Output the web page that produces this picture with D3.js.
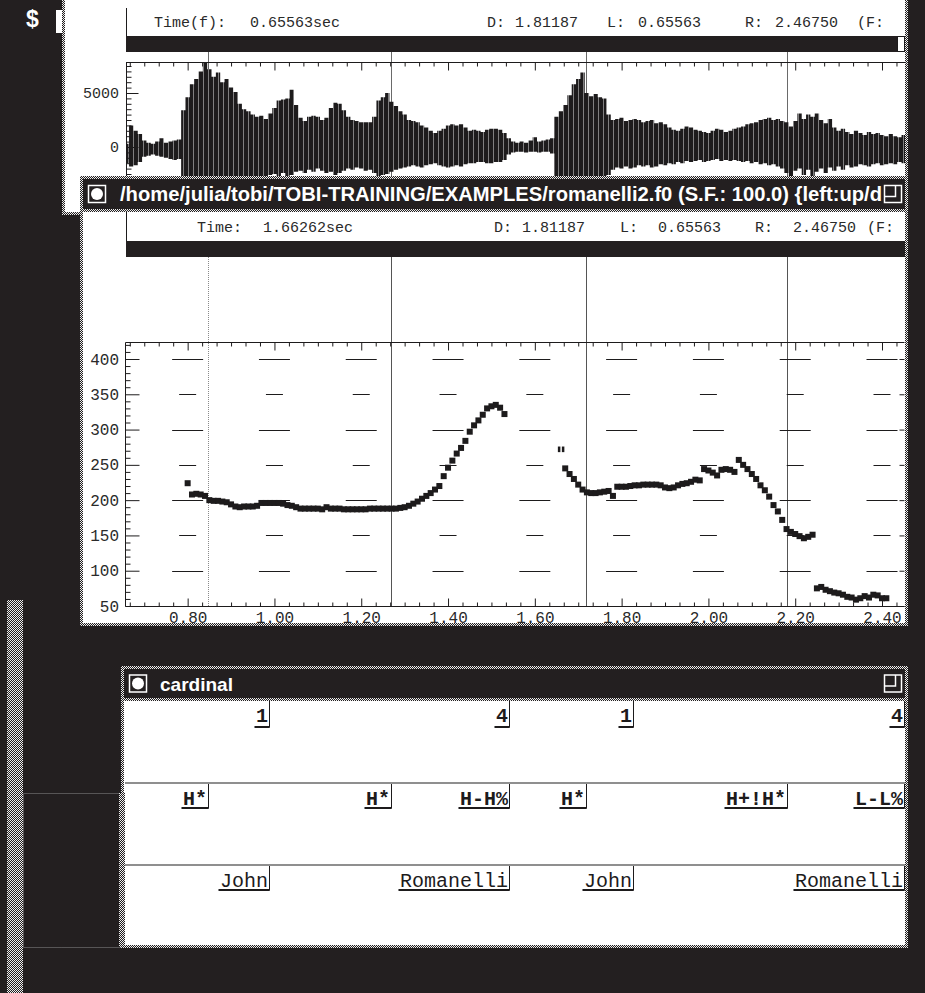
<!DOCTYPE html>
<html>
<head>
<meta charset="utf-8">
<title>romanelli2 — waveform, F0 track and ToBI labels</title>
<script src="https://cdn.jsdelivr.net/npm/d3@7/dist/d3.min.js"></script>
<style>
  html, body { margin: 0; padding: 0; background: #231f20; }
  svg { display: block; }
</style>
</head>
<body>
<svg id="screen" width="925" height="993"></svg>
<script>
// ---- Data -----------------------------------------------------------------
// Visible time window shared by all three displays (seconds)
const viewStart = 0.65563;
const viewEnd = 2.46750;
const frameStep = 0.01;              // 100 Hz analysis frames

// Waveform envelope: max / min sample value per 10 ms frame, from waveStart
const waveStart = 0.66;
const waveHigh = [
  300, 2000, 1500, 1200, 600, 400, 300, 500, 800, 400,       // 0.66
  500, 600, 700, 3400, 4600, 5800, 6300, 7000, 7800, 7200,    // 0.76
  6500, 6900, 6000, 6300, 5500, 5100, 4000, 3500, 3300, 3000, // 0.86
  2800, 2900, 2600, 3100, 3600, 4300, 4400, 4500, 5300, 3900, // 0.96
  2700, 2400, 2800, 2900, 2800, 2500, 2700, 3600, 4100, 4000, // 1.06
  3400, 2800, 2500, 2400, 2300, 2300, 2300, 2800, 4300, 4600, // 1.16
  5000, 4200, 3800, 3300, 3000, 2500, 2400, 2300, 2000, 1800, // 1.26
  1500, 1300, 1500, 1700, 2000, 2100, 2000, 2100, 1800, 1500, // 1.36
  1600, 1500, 1400, 1600, 1700, 1700, 1600, 1300, 800, 500,   // 1.46
  400, 500, 400, 600, 900, 500, 600, 700, 800, 2800,          // 1.56
  3300, 3900, 4800, 5800, 6300, 6900, 5000, 4700, 4900, 4600, // 1.66
  4500, 3000, 2500, 2600, 2700, 2400, 2500, 2600, 2500, 2300, // 1.76
  2400, 2500, 2200, 2300, 2100, 1800, 1600, 1500, 1700, 1900, // 1.86
  1800, 1600, 1500, 1400, 1300, 1500, 1700, 1600, 1400, 1500, // 1.96
  1700, 1800, 1900, 2100, 2200, 2300, 2500, 2600, 2700, 2500, // 2.06
  2600, 2400, 2300, 1900, 2400, 3100, 2600, 3000, 2800, 3100, // 2.16
  2500, 2200, 2600, 1800, 1500, 1700, 1400, 1200, 1500, 1300, // 2.26
  1100, 1400, 1200, 1300, 1100, 1000, 1200, 1000, 900, 1100,  // 2.36
  900                                                          // 2.46
];
const waveLow = [
  -1500, -1800, -1700, -1400, -900, -800, -700, -800, -900, -1000,       // 0.66
  -1100, -1200, -1100, -3500, -3600, -3600, -3600, -3600, -3600, -3600,  // 0.76
  -3600, -3600, -3600, -3600, -3600, -3600, -3600, -3600, -3600, -3600,  // 0.86
  -3600, -3600, -3200, -2600, -2500, -2800, -2400, -2700, -2600, -2300,  // 0.96
  -2200, -2400, -2100, -2300, -2000, -2200, -2400, -2300, -2600, -2400,  // 1.06
  -2200, -2000, -2100, -1900, -2000, -2200, -2100, -2400, -2700, -2600,  // 1.16
  -2500, -2300, -2100, -2000, -1900, -1800, -1700, -1800, -1900, -1700,  // 1.26
  -1600, -1500, -1700, -1800, -1900, -1800, -1700, -1800, -1600, -1500,  // 1.36
  -1500, -1400, -1400, -1500, -1500, -1400, -1400, -1200, -700, -500,    // 1.46
  -450, -450, -500, -450, -450, -500, -450, -450, -600, -3600,           // 1.56
  -3600, -3600, -3600, -3600, -3600, -3600, -3600, -3600, -3600, -3600,  // 1.66
  -3600, -2600, -2100, -1900, -2000, -1800, -2000, -1900, -1700, -1800,  // 1.76
  -1700, -1900, -1800, -1600, -1700, -1500, -1600, -1400, -1500, -1300,  // 1.86
  -1400, -1300, -1200, -1400, -1300, -1200, -1100, -1300, -1200, -1300,  // 1.96
  -1200, -1300, -1400, -1300, -1500, -1400, -1600, -1500, -1700, -1600,  // 2.06
  -1800, -2000, -2400, -2800, -2200, -2000, -2600, -2100, -2800, -2300,  // 2.16
  -2000, -2400, -1900, -2200, -1800, -2100, -1700, -1900, -1800, -1600,  // 2.26
  -1700, -1800, -1600, -1500, -1700, -1600, -1500, -1600, -1400, -1500,  // 2.36
  -1400                                                                   // 2.46
];

// F0 track (Hz), one value per frame; three voiced stretches
const f0Seg1Start = 0.80;
const f0Seg1 = [
  224, 208, 209, 208, 206, 200, 199, 199, 198, 197,   // 0.80
  194, 191, 190, 191, 191, 191, 192, 196, 196, 196,   // 0.90
  196, 196, 195, 193, 192, 190, 188, 188, 188, 188,   // 1.00
  188, 187, 190, 188, 188, 188, 187, 187, 187, 187,   // 1.10
  187, 187, 188, 188, 188, 188, 188, 188, 188, 189,   // 1.20
  190, 192, 195, 198, 202, 206, 210, 215, 220, 234,   // 1.30
  246, 256, 266, 274, 284, 297, 306, 313, 321, 330,   // 1.40
  333, 335, 331, 322                                  // 1.50
];
const f0Seg2Start = 1.67;
const f0Seg2 = [
  245, 237, 230,                                      // 1.67
  222, 215, 211, 210, 210, 211, 212, 213, 206, 219,   // 1.70
  219, 219, 220, 221, 221, 222, 222, 222, 222, 221,   // 1.80
  218, 217, 218, 221, 223, 224, 226, 229, 228, 244,   // 1.90
  242, 239, 235, 243, 244, 243, 240, 257, 250, 244,   // 2.00
  237, 230, 221, 214, 205, 193, 184, 172, 159, 155,   // 2.10
  152, 149, 146, 148, 151                             // 2.20
];
const f0Seg3Start = 2.25;
const f0Seg3 = [75, 77, 73, 71, 69, 68, 66, 63, 62, 59, 61, 64, 62, 66, 65, 61, 61];
// single broken frame just before the second stretch
const f0StrayTime = 1.66;
const f0StrayHz = 272;

// Axis ticks
const timeTicks = [0.80, 1.00, 1.20, 1.40, 1.60, 1.80, 2.00, 2.20, 2.40];
const hzTicks = [50, 100, 150, 200, 250, 300, 350, 400];
const hzGrid = [100, 150, 200, 250, 300, 350, 400];
const ampTicks = [0, 5000];

// Label tiers (time of right boundary, label text)
const breakTimes = [0.987, 1.540, 1.827, 2.451];
const breakLabels = ["1", "4", "1", "4"];
const toneTimes = [0.847, 1.269, 1.540, 1.7185, 2.1805, 2.451];
const toneLabels = ["H*", "H*", "H-H%", "H*", "H+!H*", "L-L%"];
const wordTimes = [0.987, 1.540, 1.827, 2.451];
const wordLabels = ["John", "Romanelli", "John", "Romanelli"];

// Cursor times shown in the two headers
const waveCursor = 0.65563;
const f0Cursor = 1.66262;

// ---- Drawing --------------------------------------------------------------
const W = 925, H = 993;
const dark = "#231f20";
const ink = "#1d1b1c";
const mono = "'Liberation Mono', 'DejaVu Sans Mono', monospace";
const sans = "'Liberation Sans', Arial, sans-serif";
const fmt5 = d3.format(".5f");

const svg = d3.select("#screen");
const defs = svg.append("defs");

// 50% dither used for window borders
const stip = defs.append("pattern").attr("id", "stipple")
  .attr("width", 2).attr("height", 2).attr("patternUnits", "userSpaceOnUse");
stip.append("rect").attr("width", 2).attr("height", 2).attr("fill", dark);
stip.append("rect").attr("width", 1).attr("height", 1).attr("fill", "#eeeeee");
stip.append("rect").attr("x", 1).attr("y", 1).attr("width", 1).attr("height", 1).attr("fill", "#eeeeee");

// waveform fill: solid ink broken by thin pale period gaps
const wavePat = defs.append("pattern").attr("id", "waveFill")
  .attr("width", 5).attr("height", 8).attr("patternUnits", "userSpaceOnUse");
wavePat.append("rect").attr("width", 5).attr("height", 8).attr("fill", ink);
wavePat.append("rect").attr("x", 3).attr("width", 0.8).attr("height", 8).attr("fill", "#fff").attr("opacity", 0.55);

function clipRect(id, x, y, w, h) {
  defs.append("clipPath").attr("id", id)
    .append("rect").attr("x", x).attr("y", y).attr("width", w).attr("height", h);
}

function text(g, x, y, s, o = {}) {
  return g.append("text")
    .attr("x", x).attr("y", y)
    .attr("font-family", o.family || mono)
    .attr("font-size", o.size || 16)
    .attr("font-weight", o.weight || "normal")
    .attr("text-anchor", o.anchor || "start")
    .attr("fill", o.fill || ink)
    .text(s);
}

function windowFrame(x0, y0, x1, y1) {
  svg.append("rect").attr("x", x0).attr("y", y0)
    .attr("width", x1 - x0).attr("height", y1 - y0).attr("fill", "url(#stipple)");
  svg.append("rect").attr("x", x0 + 3).attr("y", y0 + 3)
    .attr("width", x1 - x0 - 6).attr("height", y1 - y0 - 6).attr("fill", "#fff");
}

function titleBar(x0, x1, y0, y1, title, titleX, titleLen, titleSize) {
  svg.append("rect").attr("x", x0).attr("y", y0).attr("width", x1 - x0).attr("height", y1 - y0).attr("fill", dark);
  svg.append("rect").attr("x", x0).attr("y", y1).attr("width", x1 - x0).attr("height", 3).attr("fill", "url(#stipple)");
  const cy = (y0 + y1) / 2;
  // close button
  svg.append("rect").attr("x", x0 + 5.5).attr("y", cy - 8.5).attr("width", 17).attr("height", 17)
    .attr("fill", dark).attr("stroke", "#fff").attr("stroke-width", 1.5);
  svg.append("circle").attr("cx", x0 + 14).attr("cy", cy).attr("r", 6).attr("fill", "#fff");
  // title
  svg.append("text").attr("x", titleX).attr("y", cy + 7)
    .attr("font-family", sans).attr("font-weight", "bold").attr("font-size", titleSize)
    .attr("fill", "#fff").attr("textLength", titleLen).attr("lengthAdjust", "spacingAndGlyphs")
    .text(title);
  // resize button
  const rx = x1 - 21;
  svg.append("rect").attr("x", rx + 0.5).attr("y", cy - 8.5).attr("width", 17).attr("height", 17)
    .attr("fill", dark).attr("stroke", "#fff").attr("stroke-width", 1.5);
  svg.append("path").attr("d", `M${rx + 11.5},${cy - 8.5}V${cy + 2.5}H${rx + 0.5}`)
    .attr("fill", "none").attr("stroke", "#fff").attr("stroke-width", 1.5);
}

function header(y0, yText, pieces) {
  svg.append("line").attr("x1", 126.5).attr("x2", 126.5).attr("y1", y0).attr("y2", yText + 9)
    .attr("stroke", ink).attr("stroke-width", 1);
  pieces.forEach(p => text(svg, p[0], yText, p[1], { size: 15, fill: "#2a2a2a" }));
  svg.append("rect").attr("x", 126).attr("y", yText + 9).attr("width", 779).attr("height", 16).attr("fill", dark);
}

svg.append("rect").attr("width", W).attr("height", H).attr("fill", dark);

// terminal strip on the left
text(svg, 26, 27, "$", { size: 23, weight: "bold", fill: "#fff", family: sans });
svg.append("rect").attr("x", 56).attr("y", 10).attr("width", 6).attr("height", 23).attr("fill", "#fff");
svg.append("rect").attr("x", 7).attr("y", 600).attr("width", 16).attr("height", 393).attr("fill", "url(#stipple)");
svg.append("rect").attr("x", 23.5).attr("y", 793.5).attr("width", 99).attr("height", 154)
  .attr("fill", "none").attr("stroke", "#8c8c8c").attr("stroke-dasharray", "1,1");

const xT = d3.scaleLinear().domain([viewStart, viewEnd]).range([125, 911.3]);
const minorStep = 0.2 / 6;
const minorTimes = d3.range(-4, 50).map(i => 0.8 + i * minorStep)
  .filter(t => t > viewStart + 0.005 && xT(t) < 904 && Math.abs(Math.round(t * 5) - t * 5) > 1e-6);
const toneMarks = toneTimes.filter((t, i) => toneLabels[i].includes("*"));

function timeAxisTicks(g, y, dir) {
  const maker = dir > 0 ? d3.axisBottom : d3.axisTop;
  g.append("g").attr("transform", `translate(0,${y})`)
    .call(maker(xT).tickValues(timeTicks).tickSize(8).tickFormat(""))
    .call(a => a.select(".domain").remove());
  g.append("g").attr("transform", `translate(0,${y})`)
    .call(maker(xT).tickValues(minorTimes).tickSize(4).tickFormat(""))
    .call(a => a.select(".domain").remove());
  g.selectAll(".tick line").attr("stroke", ink);
}

// ===== Waveform window =====
windowFrame(62, -3, 908, 215);
header(8, 27, [
  [154, "Time(f):"], [250, fmt5(waveCursor) + "sec"],
  [487, "D:"], [515, fmt5(viewEnd - viewStart)],
  [607, "L:"], [638, fmt5(viewStart)],
  [745, "R:"], [775, fmt5(viewEnd)], [857, "(F:"]
]);
svg.append("rect").attr("x", 897.5).attr("y", 36.5).attr("width", 7).attr("height", 15)
  .attr("fill", "#fff").attr("stroke", ink);

const yA = d3.scaleLinear().domain([0, 5000]).range([147, 93]);
clipRect("waveClip", 126, 62, 779, 151);
const waveG = svg.append("g");
// tone mark cursors
waveG.selectAll(".mark").data(toneMarks).join("line")
  .attr("x1", d => Math.round(xT(d)) + 0.5).attr("x2", d => Math.round(xT(d)) + 0.5)
  .attr("y1", 52).attr("y2", 212).attr("stroke", "#6a6a6a").attr("stroke-width", 1);

const waveData = waveHigh.map((h, i) => ({ t: waveStart + i * frameStep, hi: h, lo: waveLow[i] }));
const waveArea = d3.area().x(d => xT(d.t)).y0(d => yA(d.lo)).y1(d => yA(d.hi)).curve(d3.curveStep);
waveG.append("path").datum(waveData).attr("d", waveArea)
  .attr("fill", "url(#waveFill)").attr("clip-path", "url(#waveClip)");

// waveform axes
svg.append("line").attr("x1", 126).attr("x2", 905).attr("y1", 62.5).attr("y2", 62.5).attr("stroke", ink);
svg.append("line").attr("x1", 126.5).attr("x2", 126.5).attr("y1", 62).attr("y2", 212).attr("stroke", ink);
timeAxisTicks(svg.append("g"), 62.5, 1);
const ampMinor = d3.range(-2500, 8000, 500).filter(v => v % 5000 !== 0);
svg.append("g").attr("transform", "translate(126.5,0)")
  .call(d3.axisRight(yA).tickValues(ampMinor.filter(v => yA(v) > 64 && yA(v) < 212)).tickSize(5).tickFormat(""))
  .call(a => a.select(".domain").remove()).selectAll("line").attr("stroke", ink);
svg.append("g").attr("transform", "translate(126.5,0)")
  .call(d3.axisRight(yA).tickValues(ampTicks).tickSize(12).tickFormat(""))
  .call(a => a.select(".domain").remove()).selectAll("line").attr("stroke", ink);
const ampLabels = svg.append("g").attr("transform", "translate(125,0)")
  .call(d3.axisLeft(yA).tickValues(ampTicks).tickSize(0).tickPadding(6).tickFormat(d3.format("d")))
  .call(a => a.select(".domain").remove());
ampLabels.attr("font-family", mono).attr("font-size", 15).selectAll("text").attr("fill", "#2a2a2a");

// ===== F0 window =====
windowFrame(80, 176, 908, 626);
titleBar(83, 905, 179, 209,
  "/home/julia/tobi/TOBI-TRAINING/EXAMPLES/romanelli2.f0 (S.F.:  100.0) {left:up/d",
  120, 762, 21);
header(212, 232, [
  [197, "Time:"], [263, fmt5(f0Cursor) + "sec"],
  [494, "D:"], [522, fmt5(viewEnd - viewStart)],
  [620, "L:"], [658, fmt5(viewStart)],
  [755, "R:"], [793, fmt5(viewEnd)], [867, "(F:"]
]);

const yHz = d3.scaleLinear().domain([50, 400]).range([606, 359]);
clipRect("f0Clip", 126, 343, 779, 263);

// tone mark cursors through the F0 pane
svg.selectAll(".f0mark").data(toneMarks).join("line")
  .attr("x1", d => Math.round(xT(d)) + 0.5).attr("x2", d => Math.round(xT(d)) + 0.5)
  .attr("y1", 257).attr("y2", 606)
  .attr("stroke", (d, i) => i === 0 ? "#8a8a8a" : "#555")
  .attr("stroke-dasharray", (d, i) => i === 0 ? "1,1" : null);

// dashed reference grid
const gridG = svg.append("g").attr("clip-path", "url(#f0Clip)");
gridG.selectAll("line").data(d3.cross(timeTicks, hzGrid)).join("line")
  .attr("x1", d => xT(d[0]) - (d[1] % 100 === 0 ? 15.5 : 8.5))
  .attr("x2", d => xT(d[0]) + (d[1] % 100 === 0 ? 15.5 : 8.5))
  .attr("y1", d => Math.round(yHz(d[1])) + 0.5).attr("y2", d => Math.round(yHz(d[1])) + 0.5)
  .attr("stroke", ink).attr("stroke-width", 1);

// frame
svg.append("path").attr("d", "M125.5,342.5H904.5M125.5,342.5V606.5H904.5")
  .attr("fill", "none").attr("stroke", ink);
timeAxisTicks(svg.append("g"), 342.5, 1);
timeAxisTicks(svg.append("g"), 606.5, -1);

const hzMinor = d3.range(50, 425, 10).filter(v => v % 50 !== 0);
svg.append("g").attr("transform", "translate(125.5,0)")
  .call(d3.axisRight(yHz).tickValues(hzMinor).tickSize(5).tickFormat(""))
  .call(a => a.select(".domain").remove()).selectAll("line").attr("stroke", ink);
svg.append("g").attr("transform", "translate(125.5,0)")
  .call(d3.axisRight(yHz).tickValues(hzTicks).tickSize(14).tickFormat(""))
  .call(a => a.select(".domain").remove()).selectAll("line").attr("stroke", ink);
svg.append("g").attr("transform", "translate(904.5,0)")
  .call(d3.axisLeft(yHz).tickValues(hzTicks).tickSize(5).tickFormat(""))
  .call(a => a.select(".domain").remove()).selectAll("line").attr("stroke", ink);

const hzLabels = svg.append("g").attr("transform", "translate(123,0)")
  .call(d3.axisLeft(yHz).tickValues(hzTicks).tickSize(0).tickPadding(4).tickFormat(d3.format("d")))
  .call(a => a.select(".domain").remove());
hzLabels.attr("font-family", mono).attr("font-size", 16).selectAll("text").attr("fill", "#2a2a2a");

const tLabels = svg.append("g").attr("transform", "translate(0,606)")
  .call(d3.axisBottom(xT).tickValues(timeTicks).tickSize(0).tickPadding(6).tickFormat(d3.format(".2f")))
  .call(a => a.select(".domain").remove());
tLabels.attr("font-family", mono).attr("font-size", 16).selectAll("text").attr("fill", "#2a2a2a");

// F0 frames as filled squares
const f0Points = [
  ...f0Seg1.map((hz, i) => ({ t: f0Seg1Start + i * frameStep, hz })),
  ...f0Seg2.map((hz, i) => ({ t: f0Seg2Start + i * frameStep, hz })),
  ...f0Seg3.map((hz, i) => ({ t: f0Seg3Start + i * frameStep, hz }))
];
const ptG = svg.append("g").attr("clip-path", "url(#f0Clip)");
ptG.selectAll("rect").data(f0Points).join("rect")
  .attr("x", d => xT(d.t) - 3).attr("y", d => yHz(d.hz) - 3)
  .attr("width", 6).attr("height", 6).attr("fill", ink);
// broken frame drawn as a split square
ptG.append("rect").attr("x", xT(f0StrayTime) - 3).attr("y", yHz(f0StrayHz) - 2.8)
  .attr("width", 2.5).attr("height", 5.6).attr("fill", ink);
ptG.append("rect").attr("x", xT(f0StrayTime) + 1).attr("y", yHz(f0StrayHz) - 2.8)
  .attr("width", 2.5).attr("height", 5.6).attr("fill", ink);

// ===== Label window =====
windowFrame(121, 666, 908, 948);
titleBar(124, 905, 669, 698, "cardinal", 160, 73, 19);
svg.append("rect").attr("x", 119).attr("y", 793).attr("width", 6).attr("height", 154).attr("fill", "url(#stipple)");

[783, 865].forEach(y => svg.append("line").attr("x1", 125).attr("x2", 905)
  .attr("y1", y).attr("y2", y).attr("stroke", "#6a6a6a").attr("stroke-width", 1.5));

const tiers = [
  { top: 701, base: 722, under: 727, times: breakTimes, labels: breakLabels, weight: "bold" },
  { top: 784, base: 805, under: 808, times: toneTimes, labels: toneLabels, weight: "bold" },
  { top: 866, base: 887, under: 890, times: wordTimes, labels: wordLabels, weight: "normal" }
];
tiers.forEach(tier => {
  const g = svg.append("g");
  tier.times.forEach((t, i) => {
    const xm = Math.round(xT(t)) + 0.5;
    const tx = text(g, xm - 1.5, tier.base, tier.labels[i],
      { size: 20, weight: tier.weight, anchor: "end", fill: ink });
    const len = tx.node().getComputedTextLength();
    g.append("line").attr("x1", xm).attr("x2", xm).attr("y1", tier.top).attr("y2", tier.under + 0.5)
      .attr("stroke", ink).attr("stroke-width", 1);
    g.append("line").attr("x1", xm - len - 3).attr("x2", xm).attr("y1", tier.under).attr("y2", tier.under)
      .attr("stroke", ink).attr("stroke-width", 2);
  });
});
</script>
</body>
</html>
